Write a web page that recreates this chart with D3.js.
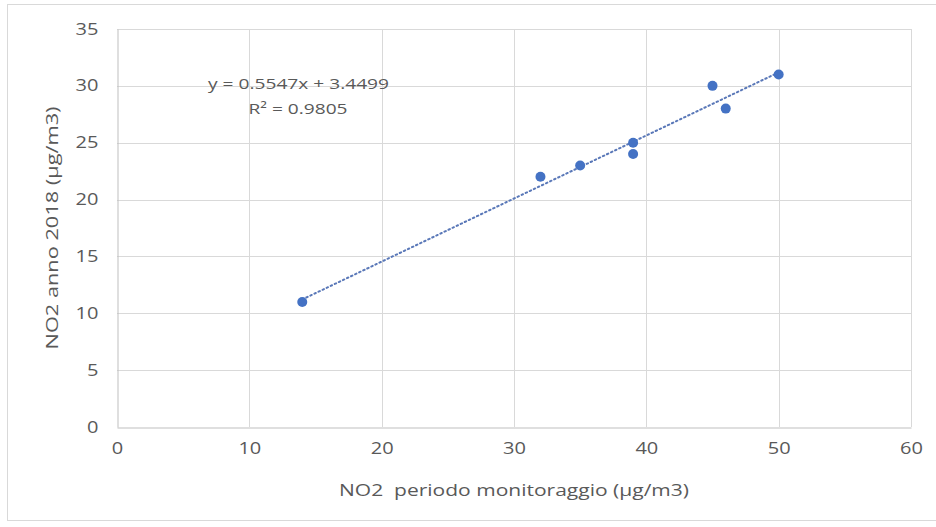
<!DOCTYPE html>
<html>
<head>
<meta charset="utf-8">
<script src="https://cdn.jsdelivr.net/npm/d3@7"></script>
<style>
  body { margin: 0; background: #fff; }
  text { font-family: "Open Sans", sans-serif; fill: #595959; }
</style>
</head>
<body>
<svg id="chart" width="936" height="527"></svg>
<script>
// values
var xValues = [14, 32, 35, 39, 39, 45, 46, 50];
var yValues = [11, 22, 23, 25, 24, 30, 28, 31];
var xTicks = [0, 10, 20, 30, 40, 50, 60];
var yTicks = [0, 5, 10, 15, 20, 25, 30, 35];
var equationText = "y = 0.5547x + 3.4499";
var r2Text = "R² = 0.9805";
var xTitle = "NO2  periodo monitoraggio (µg/m3)";
var yTitle = "NO2 anno 2018 (µg/m3)";

function draw() {
    var svg = d3.select("#chart");
    var left = 117, right = 911, top = 29, bottom = 427;
    var stretch = 1.25; // the reference font runs wide

    var xScale = d3.scaleLinear().domain([0, 60]).range([left, right]);
    var yScale = d3.scaleLinear().domain([0, 35]).range([bottom, top]);

    // outer frame
    svg.append("rect")
        .attr("x", 7.5).attr("y", 4.5)
        .attr("width", 936).attr("height", 516)
        .attr("fill", "#fff").attr("stroke", "#d9d9d9");

    // gridlines
    svg.append("g").selectAll("line")
        .data(yTicks.slice(1)).enter().append("line")
        .attr("x1", left).attr("x2", right)
        .attr("y1", function(d){ return Math.round(yScale(d)) + 0.5; })
        .attr("y2", function(d){ return Math.round(yScale(d)) + 0.5; })
        .attr("stroke", "#d9d9d9");
    svg.append("g").selectAll("line")
        .data(xTicks.slice(1)).enter().append("line")
        .attr("x1", function(d){ return Math.round(xScale(d)) + 0.5; })
        .attr("x2", function(d){ return Math.round(xScale(d)) + 0.5; })
        .attr("y1", top).attr("y2", bottom)
        .attr("stroke", "#d9d9d9");

    // axes
    var xAxis = svg.append("g")
        .attr("transform", "translate(0," + (Math.round(bottom) + 0.5) + ")")
        .call(d3.axisBottom(xScale).tickValues(xTicks).tickSize(0).tickPadding(15));
    var yAxis = svg.append("g")
        .attr("transform", "translate(" + (Math.round(left) + 0.5) + ",0)")
        .call(d3.axisLeft(yScale).tickValues(yTicks).tickSize(0).tickPadding(19 / stretch));
    [xAxis, yAxis].forEach(function(a){
        a.select(".domain").attr("stroke", "#bfbfbf");
        a.selectAll("text")
            .attr("font-size", 16).attr("font-family", null).attr("fill", "#595959")
            .attr("transform", "scale(" + stretch + ",1)");
    });

    // trendline from fit
    var slope = 0.5547, intercept = 3.4499;
    var xs = d3.extent(xValues);
    svg.append("line")
        .attr("x1", xScale(xs[0])).attr("y1", yScale(slope * xs[0] + intercept))
        .attr("x2", xScale(xs[1])).attr("y2", yScale(slope * xs[1] + intercept))
        .attr("stroke", "#5a78b8").attr("stroke-width", 2)
        .attr("stroke-dasharray", "1.5,3").attr("stroke-linecap", "round");

    // points
    svg.append("g").selectAll("circle")
        .data(xValues).enter().append("circle")
        .attr("cx", function(d){ return xScale(d); })
        .attr("cy", function(d, i){ return yScale(yValues[i]); })
        .attr("r", 5)
        .attr("fill", "#4472c4");

    // equation label
    svg.append("text").attr("x", 298.5).attr("y", 89)
        .attr("text-anchor", "middle").attr("font-size", 15)
        .attr("textLength", 181).attr("lengthAdjust", "spacingAndGlyphs")
        .text(equationText);
    svg.append("text").attr("x", 298).attr("y", 114)
        .attr("text-anchor", "middle").attr("font-size", 15)
        .attr("textLength", 99).attr("lengthAdjust", "spacingAndGlyphs")
        .text(r2Text);

    // axis titles
    svg.append("text").attr("x", (left + right) / 2).attr("y", 496)
        .attr("text-anchor", "middle").attr("font-size", 17)
        .style("white-space", "pre")
        .attr("textLength", 350).attr("lengthAdjust", "spacingAndGlyphs")
        .text(xTitle);
    svg.append("text")
        .attr("transform", "translate(58," + ((top + bottom) / 2) + ") rotate(-90)")
        .attr("text-anchor", "middle").attr("font-size", 17)
        .attr("textLength", 243).attr("lengthAdjust", "spacingAndGlyphs")
        .text(yTitle);
}

draw();
</script>
</body>
</html>
